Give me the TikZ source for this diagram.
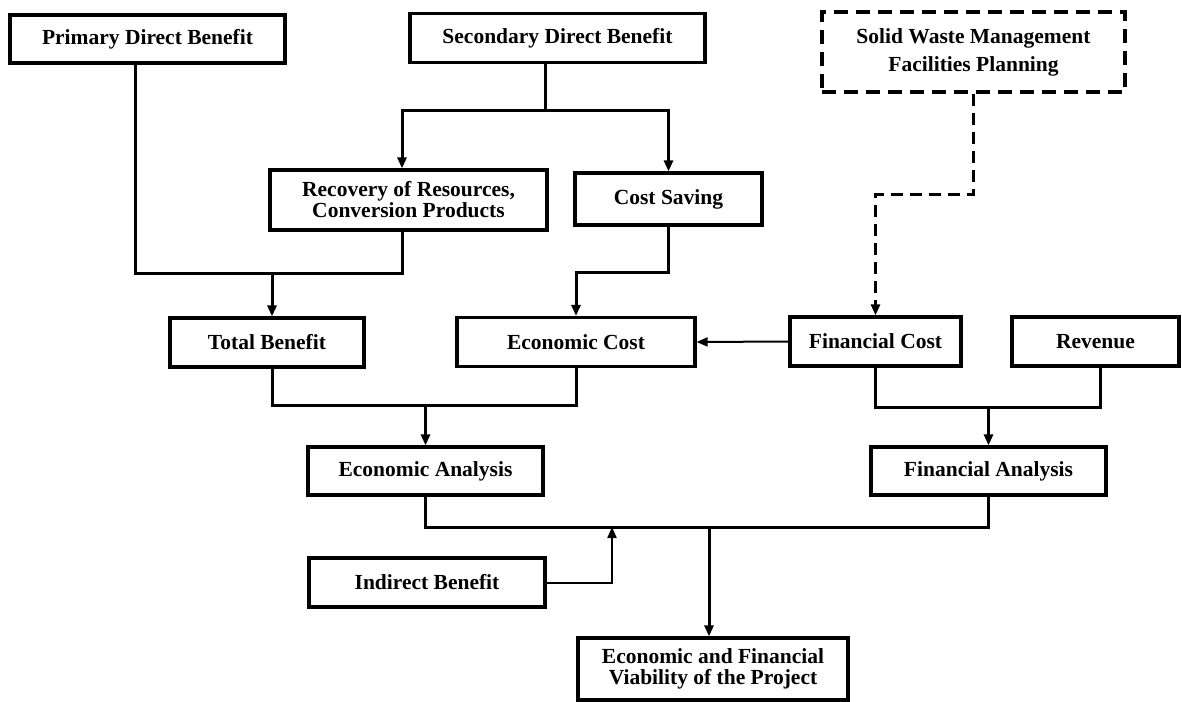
\documentclass[tikz,border=0pt]{standalone}
\usepackage{fontspec}
\setmainfont{Liberation Serif}
\usetikzlibrary{arrows.meta}
\begin{document}
\begin{tikzpicture}[x=1pt,y=-1pt,
  box/.style={draw=black,line width=3.2pt,fill=white,inner sep=0pt,align=center,
    font=\fontsize{21.5}{21}\selectfont\bfseries},
  dbox/.style={box,dash pattern=on 14pt off 8pt},
  conn/.style={draw=black,line width=3pt},
  arr/.style={conn,-{Triangle[length=11pt,width=9pt]}},
  darr/.style={arr,dash pattern=on 12pt off 7pt},
  tarr/.style={draw=black,line width=2pt,-{Triangle[length=11pt,width=9pt]}}]
\fill[white] (0,0) rectangle (1182,701);
\useasboundingbox (0,0) rectangle (1182,701);
% row 1
\node[box,minimum width=275pt,minimum height=48pt] (prim) at (147.5,39) {Primary Direct Benefit};
\node[box,minimum width=295pt,minimum height=49pt] (sec) at (557.5,38) {Secondary Direct Benefit};
\node[dbox,minimum width=303pt,minimum height=80pt,font=\fontsize{21.5}{28}\selectfont\bfseries] (solid) at (973.5,52) {Solid Waste Management\\Facilities Planning};
% row 2
\node[box,minimum width=277pt,minimum height=60pt] (rec) at (408.5,200) {Recovery of Resources,\\Conversion Products};
\node[box,minimum width=187pt,minimum height=52pt] (cost) at (668.5,199) {Cost Saving};
% row 3
\node[box,minimum width=194pt,minimum height=49pt] (tot) at (267,342.5) {Total Benefit};
\node[box,minimum width=238pt,minimum height=49pt] (ecost) at (576,342) {Economic Cost};
\node[box,minimum width=171pt,minimum height=49pt] (fcost) at (875.5,341.5) {Financial Cost};
\node[box,minimum width=167pt,minimum height=49pt] (rev) at (1095.5,341.5) {Revenue};
% row 4
\node[box,minimum width=235pt,minimum height=48pt] (ean) at (425.5,471) {Economic Analysis};
\node[box,minimum width=235pt,minimum height=48pt] (fan) at (988.5,471) {Financial Analysis};
% row 5
\node[box,minimum width=236pt,minimum height=49pt] (ind) at (427,582.5) {Indirect Benefit};
\node[box,minimum width=270pt,minimum height=62pt] (fin) at (713,669) {Economic and Financial\\Viability of the Project};
% junction points
\coordinate (jS) at (545,110);
\coordinate (jPR) at (272,273);
\coordinate (jC) at (576,272);
\coordinate (jW) at (875.5,194);
\coordinate (jE) at (425.5,405);
\coordinate (jF) at (988.5,407);
\coordinate (jB) at (709,527);
\coordinate (jI) at (612,527);
% connectors
\draw[conn] (sec.south -| jS) -- (jS);
\draw[arr] (jS) -| (rec.north -| 402,0);
\draw[arr] (jS) -| (cost.north);
\draw[conn] (prim.south -| 135,0) |- (jPR) -| (rec.south -| 402,0);
\draw[arr] (jPR) -- (tot.north -| jPR);
\draw[arr] (cost.south) |- (jC) -- (ecost.north);
\draw[darr] (solid.south) |- (jW) -- (fcost.north);
\draw[tarr] (fcost.west) -- (ecost.east);
\draw[conn] (tot.south -| jPR) |- (jE) -| (ecost.south);
\draw[arr] (jE) -- (ean.north);
\draw[conn] (fcost.south) |- (jF) -| (rev.south -| 1100,0);
\draw[arr] (jF) -- (fan.north);
\draw[conn] (ean.south) |- (jB) -| (fan.south);
\draw[arr] (jB) -- (fin.north -| jB);
\draw[tarr] (ind.east) -| (jI);
\end{tikzpicture}
\end{document}
